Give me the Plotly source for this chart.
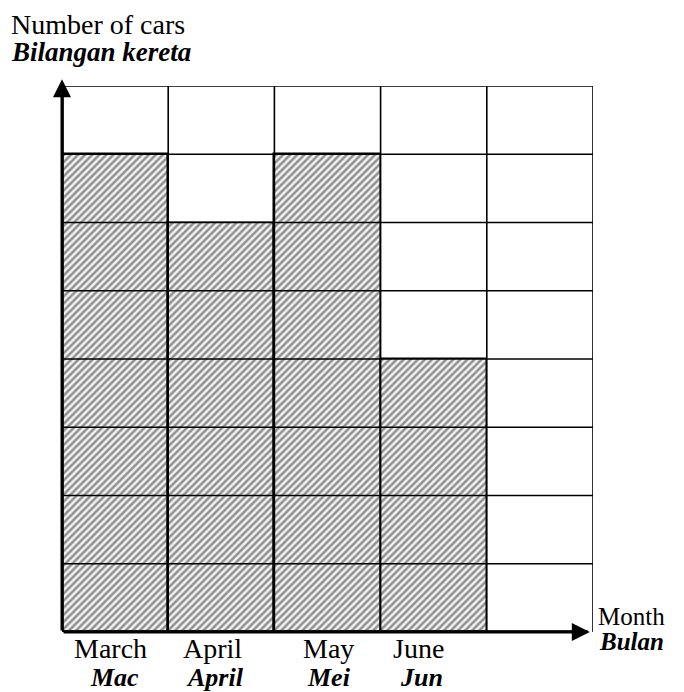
import plotly.graph_objects as go

# Data
months_en = ["March", "April", "May", "June"]
months_my = ["Mac", "April", "Mei", "Jun"]
cars = [7, 6, 7, 4]
n_cols = 5
n_rows = 8

FONT = "Liberation Serif"

x_pos = [i + 0.5 for i in range(len(cars))]

fig = go.Figure()
fig.add_trace(go.Bar(
    x=x_pos, y=cars, width=1,
    marker=dict(
        color="#f2f2f2",
        line=dict(color="black", width=1.5),
        pattern=dict(shape="/", fgcolor="#2e2e2e", bgcolor="#f2f2f2",
                     size=5, solidity=0.5),
    ),
    showlegend=False, hoverinfo="skip",
))

shapes = []
for c in range(1, n_cols + 1):
    shapes.append(dict(type="line", xref="x", yref="y", x0=c, x1=c, y0=0, y1=n_rows,
                       line=dict(color="black", width=1.6), layer="above"))
for r in range(1, n_rows + 1):
    shapes.append(dict(type="line", xref="x", yref="y", x0=0, x1=n_cols, y0=r, y1=r,
                       line=dict(color="black", width=1.6), layer="above"))

annotations = []
# axes arrows
annotations.append(dict(x=0, y=8.1, ax=0, ay=0, xref="x", yref="y", axref="x", ayref="y",
                        text="", showarrow=True, arrowhead=2, arrowsize=1.2,
                        arrowwidth=3, arrowcolor="black"))
annotations.append(dict(x=4.97, y=0, ax=0, ay=0, xref="x", yref="y", axref="x", ayref="y",
                        text="", showarrow=True, arrowhead=2, arrowsize=1.2,
                        arrowwidth=3, arrowcolor="black"))

en_shift = [-5, -9, 1, -15]
my_shift = [-1, -6, 1, -12]
for i, (en, my) in enumerate(zip(months_en, months_my)):
    annotations.append(dict(x=i + 0.5, y=0, xref="x", yref="paper", text=en,
                            showarrow=False, xanchor="center", yanchor="middle",
                            xshift=en_shift[i], yshift=-16,
                            font=dict(family=FONT, size=28, color="black")))
    annotations.append(dict(x=i + 0.5, y=0, xref="x", yref="paper", text="<b><i>" + my + "</i></b>",
                            showarrow=False, xanchor="center", yanchor="middle",
                            xshift=my_shift[i], yshift=-45,
                            font=dict(family=FONT, size=26, color="black")))

annotations.append(dict(x=1, y=0, xref="paper", yref="paper", text="Month",
                        showarrow=False, xanchor="left", yanchor="middle",
                        xshift=3, yshift=16,
                        font=dict(family=FONT, size=25, color="black")))
annotations.append(dict(x=1, y=0, xref="paper", yref="paper", text="<b><i>Bulan</i></b>",
                        showarrow=False, xanchor="left", yanchor="middle",
                        xshift=4, yshift=-9,
                        font=dict(family=FONT, size=25, color="black")))

annotations.append(dict(x=0, y=1, xref="paper", yref="paper",
                        text="Number of cars", showarrow=False,
                        xanchor="left", yanchor="middle", xshift=-53, yshift=62,
                        font=dict(family=FONT, size=28, color="black")))
annotations.append(dict(x=0, y=1, xref="paper", yref="paper",
                        text="<b><i>Bilangan kereta</i></b>", showarrow=False,
                        xanchor="left", yanchor="middle", xshift=-53, yshift=34,
                        font=dict(family=FONT, size=27, color="black")))

# thick axis lines
shapes.append(dict(type="line", xref="x", yref="y", x0=0, x1=0, y0=0, y1=8.05,
                   line=dict(color="black", width=3.5), layer="above"))
shapes.append(dict(type="line", xref="x", yref="y", x0=0, x1=4.95, y0=0, y1=0,
                   line=dict(color="black", width=3.5), layer="above"))

fig.update_layout(
    width=684, height=692,
    margin=dict(l=54, r=99, t=78, b=68),
    paper_bgcolor="white", plot_bgcolor="white",
    shapes=shapes, annotations=annotations,
    xaxis=dict(range=[0, n_cols], showgrid=False, zeroline=False, showticklabels=False,
               ticks="", showline=False, fixedrange=True),
    yaxis=dict(range=[0, n_rows], showgrid=False, zeroline=False, showticklabels=False,
               ticks="", showline=False, fixedrange=True),
    bargap=0,
)

fig.write_html("out.html")
